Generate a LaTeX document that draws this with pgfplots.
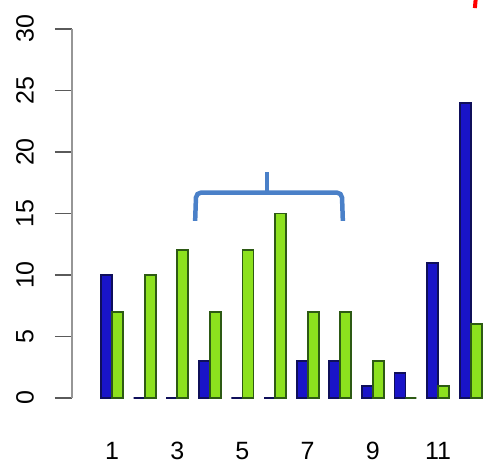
\documentclass[border=0pt]{standalone}
\usepackage{fontspec}
\setmainfont{Liberation Sans}
\usepackage{pgfplots}
\pgfplotsset{compat=1.18}
\definecolor{barblue}{RGB}{25,20,200}
\definecolor{barblueedge}{RGB}{15,15,90}
\definecolor{bargreen}{RGB}{140,225,30}
\definecolor{bargreenedge}{RGB}{45,90,20}
\definecolor{axisgray}{RGB}{150,150,150}
\definecolor{tickgray}{RGB}{90,90,90}
\definecolor{bracketblue}{RGB}{74,128,200}
\begin{document}
\begin{tikzpicture}
\begin{axis}[
  scale only axis, width=413pt, height=369pt,
  xmin=-0.227, xmax=12.44, ymin=0, ymax=30,
  /pgf/number format/assume math mode=true,
  axis lines=left,
  axis line style={-},
  x axis line style={draw=none},
  y axis line style={draw=axisgray, line width=2.5pt},
  xtick={1,3,5,7,9,11},
  x tick style={draw=none},
  ytick={0,5,10,15,20,25,30},
  y tick style={draw=tickgray, line width=1.5pt},
  tick align=outside, major tick length=17pt,
  x tick label style={font=\fontsize{25}{25}\selectfont, anchor=center, inner sep=1pt, yshift=-36pt},
  y tick label style={font=\fontsize{25}{25}\selectfont, anchor=center, xshift=-30pt, rotate=90},
  clip=false,
]
\addplot[ybar, bar width=11pt, bar shift=-5.5pt, fill=barblue, draw=barblueedge, line width=1.8pt]
  coordinates {(1,10) (2,0) (3,0) (4,3) (5,0) (6,0) (7,3) (8,3) (9,1) (10,2) (11,11) (12,24)};
\addplot[ybar, bar width=11pt, bar shift=5.5pt, fill=bargreen, draw=bargreenedge, line width=1.8pt]
  coordinates {(1,7) (2,10) (3,12) (4,7) (5,12) (6,15) (7,7) (8,7) (9,3) (10,0) (11,1) (12,6)};
\addplot[sharp plot, no marks, draw=bracketblue, line width=4.5pt, rounded corners=5pt]
  coordinates {(3.55,14.4) (3.58,16.7) (8.05,16.7) (8.08,14.4)};
\addplot[sharp plot, no marks, draw=bracketblue, line width=4.5pt]
  coordinates {(5.75,16.7) (5.75,18.4)};
\addplot[sharp plot, no marks, draw=red, line width=4pt]
  coordinates {(12.13,31.7) (12.16,32.6)};
\end{axis}
\pgfresetboundingbox
\path[use as bounding box] ([xshift=-72pt,yshift=-70pt]current axis.south west) rectangle ([xshift=413pt,yshift=398pt]current axis.south west);
\end{tikzpicture}
\end{document}
